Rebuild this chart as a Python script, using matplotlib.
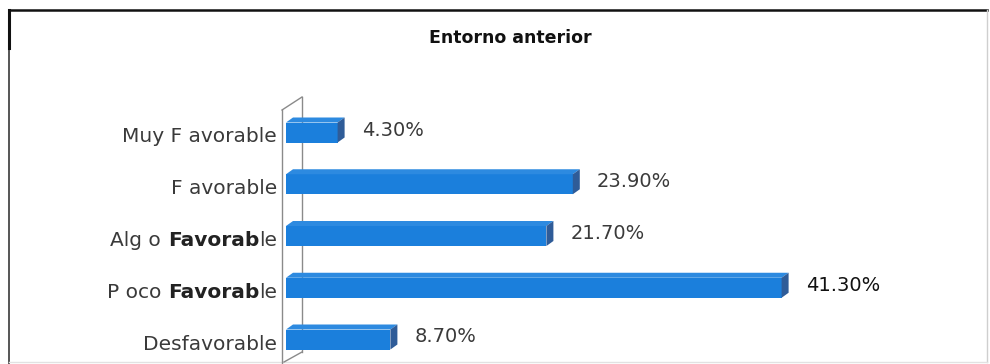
import matplotlib
matplotlib.use("Agg")
import matplotlib.pyplot as plt
from matplotlib.patches import Polygon
from matplotlib.lines import Line2D
from matplotlib.offsetbox import TextArea, HPacker, AnnotationBbox

# Data
categories = ["Muy F avorable", "F avorable", "Alg o Favorable", "P oco Favorable", "Desfavorable"]
bold_part = [None, None, "Favorab", "Favorab", None]
values = [4.3, 23.9, 21.7, 41.3, 8.7]
title = "Entorno anterior"

W, H = 990, 364
fig = plt.figure(figsize=(W / 100, H / 100), dpi=100)
fig.patch.set_facecolor("white")

# Outer frame (figure pixel coordinates)
frame = fig.add_axes([0, 0, 1, 1])
frame.set_xlim(0, W)
frame.set_ylim(H, 0)
frame.axis("off")
frame.add_line(Line2D([9, 987], [10, 10], color="#111111", lw=1.8))
frame.add_line(Line2D([9, 9], [10, 364], color="#555555", lw=1.4))
frame.add_line(Line2D([9, 9], [10, 48], color="#111111", lw=2.2))
frame.add_line(Line2D([987, 987], [10, 362], color="#cfcfcf", lw=1.0))
frame.add_line(Line2D([9, 987], [362, 362], color="#e2e2e2", lw=1.0))

fig.text(510 / W, 1 - 38 / H, title, ha="center", va="center",
         fontsize=12.5, fontweight="bold", family="DejaVu Sans", color="#111111")

# Plot area geometry
px_per_pct = 12.0
px_per_cat = 51.75
x0_px = 286
xmax = 50
top_px, bot_px = 90, 364
first_center = 130
ax = fig.add_axes([x0_px / W, 1 - bot_px / H, xmax * px_per_pct / W, (bot_px - top_px) / H])
ax.set_xlim(0, xmax)
ax.set_ylim((bot_px - first_center) / px_per_cat, -(first_center - top_px) / px_per_cat)
ax.axis("off")

def dy(px):
    return px / px_per_cat

def dx(px):
    return px / px_per_pct

# Back wall of the 3D plot
wall_col = "#8a8a8a"
xl, xr = dx(-4), dx(16)
for xs, ys in [([xl, xl], [dy(110 - 130), dy(364 - 130)]),
               ([xr, xr], [dy(97 - 130), dy(352 - 130)]),
               ([xl, xr], [dy(110 - 130), dy(97 - 130)]),
               ([xr, xl + dx(2)], [dy(352 - 130), dy(362 - 130)])]:
    ax.add_line(Line2D(xs, ys, color=wall_col, lw=1.0, clip_on=False, zorder=1))

front_col = "#1b7fdc"
top_col = "#2d8ae0"
side_col = "#2f5c98"
depth_x, depth_y = dx(7), dy(5)
front_h = dy(20)
positions = list(range(len(categories)))

for i, v in zip(positions, values):
    c = i + dy(2.5)
    ftop, fbot = c - front_h / 2, c + front_h / 2
    ax.barh(c, v, height=front_h, color=front_col, edgecolor="none", zorder=3)
    ax.add_patch(Polygon([(0, ftop), (depth_x, ftop - depth_y), (v + depth_x, ftop - depth_y), (v, ftop)],
                         closed=True, facecolor=top_col, edgecolor="none", zorder=3, clip_on=False))
    ax.add_patch(Polygon([(v, ftop), (v + depth_x, ftop - depth_y), (v + depth_x, fbot - depth_y), (v, fbot)],
                         closed=True, facecolor=side_col, edgecolor="none", zorder=3, clip_on=False))
    ax.annotate(f"{v:.2f}%", xy=(v + depth_x, i), xytext=(17, 0), textcoords="offset pixels",
                ha="left", va="center", fontsize=14, family="DejaVu Sans",
                color="#111111" if v == max(values) else "#3a3a3a", annotation_clip=False)

# Category labels, with the highlighted part in bold
lab_kw = dict(fontsize=14.5, family="DejaVu Sans", color="#3a3a3a")
for i, (lab, bp) in enumerate(zip(categories, bold_part)):
    if bp and bp in lab:
        a, rest = lab.split(bp, 1)
        parts = [TextArea(a, textprops=lab_kw),
                 TextArea(bp, textprops=dict(lab_kw, fontweight="bold", color="#222222")),
                 TextArea(rest, textprops=lab_kw)]
    else:
        parts = [TextArea(lab, textprops=lab_kw)]
    box = HPacker(children=parts, align="baseline", pad=0, sep=0)
    ab = AnnotationBbox(box, xy=(0, i), xycoords="data", xybox=(-9, -7), boxcoords="offset pixels",
                        box_alignment=(1, 0.5), frameon=False, pad=0, annotation_clip=False)
    ax.add_artist(ab)

fig.savefig("out.png", dpi=100, facecolor="white")
